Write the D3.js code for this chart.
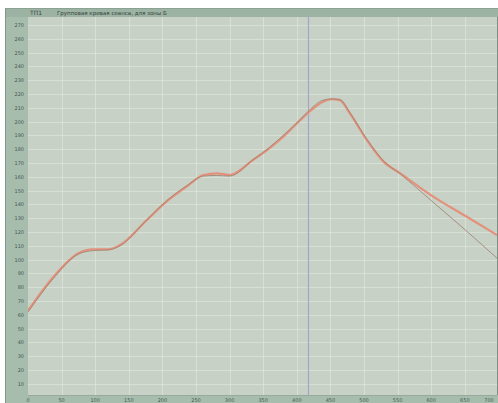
<!DOCTYPE html>
<html><head><meta charset="utf-8">
<script src="https://cdn.jsdelivr.net/npm/d3@7"></script>
<style>html,body{margin:0;padding:0;background:#fff;overflow:hidden}</style>
</head><body>
<script>
const titleCode = "ТП1";
const titleText = "Групповая кривая сеанса, для зоны Б";
const xTicks = [0,50,100,150,200,250,300,350,400,450,500,550,600,650,700];
const yTicks = [10,20,30,40,50,60,70,80,90,100,110,120,130,140,150,160,170,180,190,200,210,220,230,240,250,260,270];
const markerX = 417;
const measuredX = [0,38,75,97,120,137,177,206,236,261,281,300,335,360,382,405,417,439,452,464,479,504,529,554,603,653,698];
const measuredY = [63,87.6,104.6,107.5,107.5,110.6,128.7,142,152.8,161.3,162.5,161.3,172.2,181,190,201,206.4,214.4,216.2,215.5,206,186.7,171,162.5,145.6,131,117.8];
const modelX = [0,38,75,97,120,137,177,206,236,261,281,300,335,360,382,405,417,439,452,464,479,504,529,554,603,653,698];
const modelY = [62,86.5,104,106.5,107,110,129,142.5,153.5,160.5,161,160.5,172.5,181.5,191,201.5,207.5,215.5,216.5,216,206.5,187.5,171.5,162,141.5,120.5,101];

const W=498,H=403;
const svg=d3.select("body").append("svg").attr("width",W).attr("height",H);
const pL=28,pR=497,pT=17,pB=395;
svg.append("rect").attr("x",5).attr("y",8).attr("width",W-5).attr("height",H-8).attr("fill","#a6bdad");
svg.append("rect").attr("x",5).attr("y",8).attr("width",W-5).attr("height",9).attr("fill","#9cb3a4");
svg.append("line").attr("x1",5.5).attr("x2",5.5).attr("y1",8).attr("y2",H).attr("stroke","#7f978a");
svg.append("line").attr("x1",5).attr("x2",W).attr("y1",8.5).attr("y2",8.5).attr("stroke","#8aa294");
svg.append("rect").attr("x",pL).attr("y",pT).attr("width",pR-pL).attr("height",pB-pT).attr("fill","#c7d1c6");
svg.append("line").attr("x1",pR+0.5).attr("x2",pR+0.5).attr("y1",pT).attr("y2",pB).attr("stroke","#7d8f84");
svg.append("line").attr("x1",pL).attr("x2",pR).attr("y1",pB+0.5).attr("y2",pB+0.5).attr("stroke","#9aa99e");

const x=d3.scaleLinear().domain([0,700]).range([28,498.4]);
const y=d3.scaleLinear().domain([0,276]).range([397.6,16.7]);

svg.append("defs").append("clipPath").attr("id","c").append("rect").attr("x",pL).attr("y",pT).attr("width",pR-pL).attr("height",pB-pT);
const g=svg.append("g").attr("clip-path","url(#c)");
g.selectAll(".hg").data(yTicks).join("line").attr("x1",pL).attr("x2",pR).attr("y1",d=>Math.round(y(d))+0.5).attr("y2",d=>Math.round(y(d))+0.5).attr("stroke","#e2e8e0").attr("stroke-opacity",0.6);
g.selectAll(".vg").data(xTicks.filter(d=>d>0)).join("line").attr("y1",pT).attr("y2",pB).attr("x1",d=>Math.round(x(d))+0.5).attr("x2",d=>Math.round(x(d))+0.5).attr("stroke","#e2e8e0").attr("stroke-opacity",0.6);
g.append("line").attr("x1",Math.round(x(markerX))+0.5).attr("x2",Math.round(x(markerX))+0.5).attr("y1",pT).attr("y2",pB).attr("stroke","#aaa2c8").attr("stroke-width",1.2);

const line=d3.line().x(d=>x(d[0])).y(d=>y(d[1])).curve(d3.curveMonotoneX);
const model=modelX.map((v,i)=>[v,modelY[i]]);
const meas=measuredX.map((v,i)=>[v,measuredY[i]]);
g.append("path").attr("d",line(meas)).attr("fill","none").attr("stroke","#e8866f").attr("stroke-width",2.2).attr("stroke-opacity",0.85);
g.append("path").attr("d",line(model)).attr("fill","none").attr("stroke","#a08472").attr("stroke-width",1).attr("stroke-opacity",0.85);

svg.selectAll(".yl").data(yTicks).join("text").attr("x",24).attr("y",d=>y(d)+2).attr("text-anchor","end")
 .attr("font-family","DejaVu Sans").attr("font-size",5).attr("fill","#4a5650").text(d=>d);
svg.selectAll(".xl").data(xTicks).join("text").attr("x",d=>Math.min(x(d),489)).attr("y",402).attr("text-anchor","middle")
 .attr("font-family","DejaVu Sans").attr("font-size",5).attr("fill","#4a5650").text(d=>d);
svg.append("text").attr("x",30).attr("y",15).attr("font-family","DejaVu Sans").attr("font-size",6).attr("fill","#3a4640").text(titleCode);
svg.append("text").attr("x",57).attr("y",15).attr("font-family","DejaVu Sans").attr("font-size",5.5).attr("fill","#3a4640").text(titleText);
</script>
</body></html>
